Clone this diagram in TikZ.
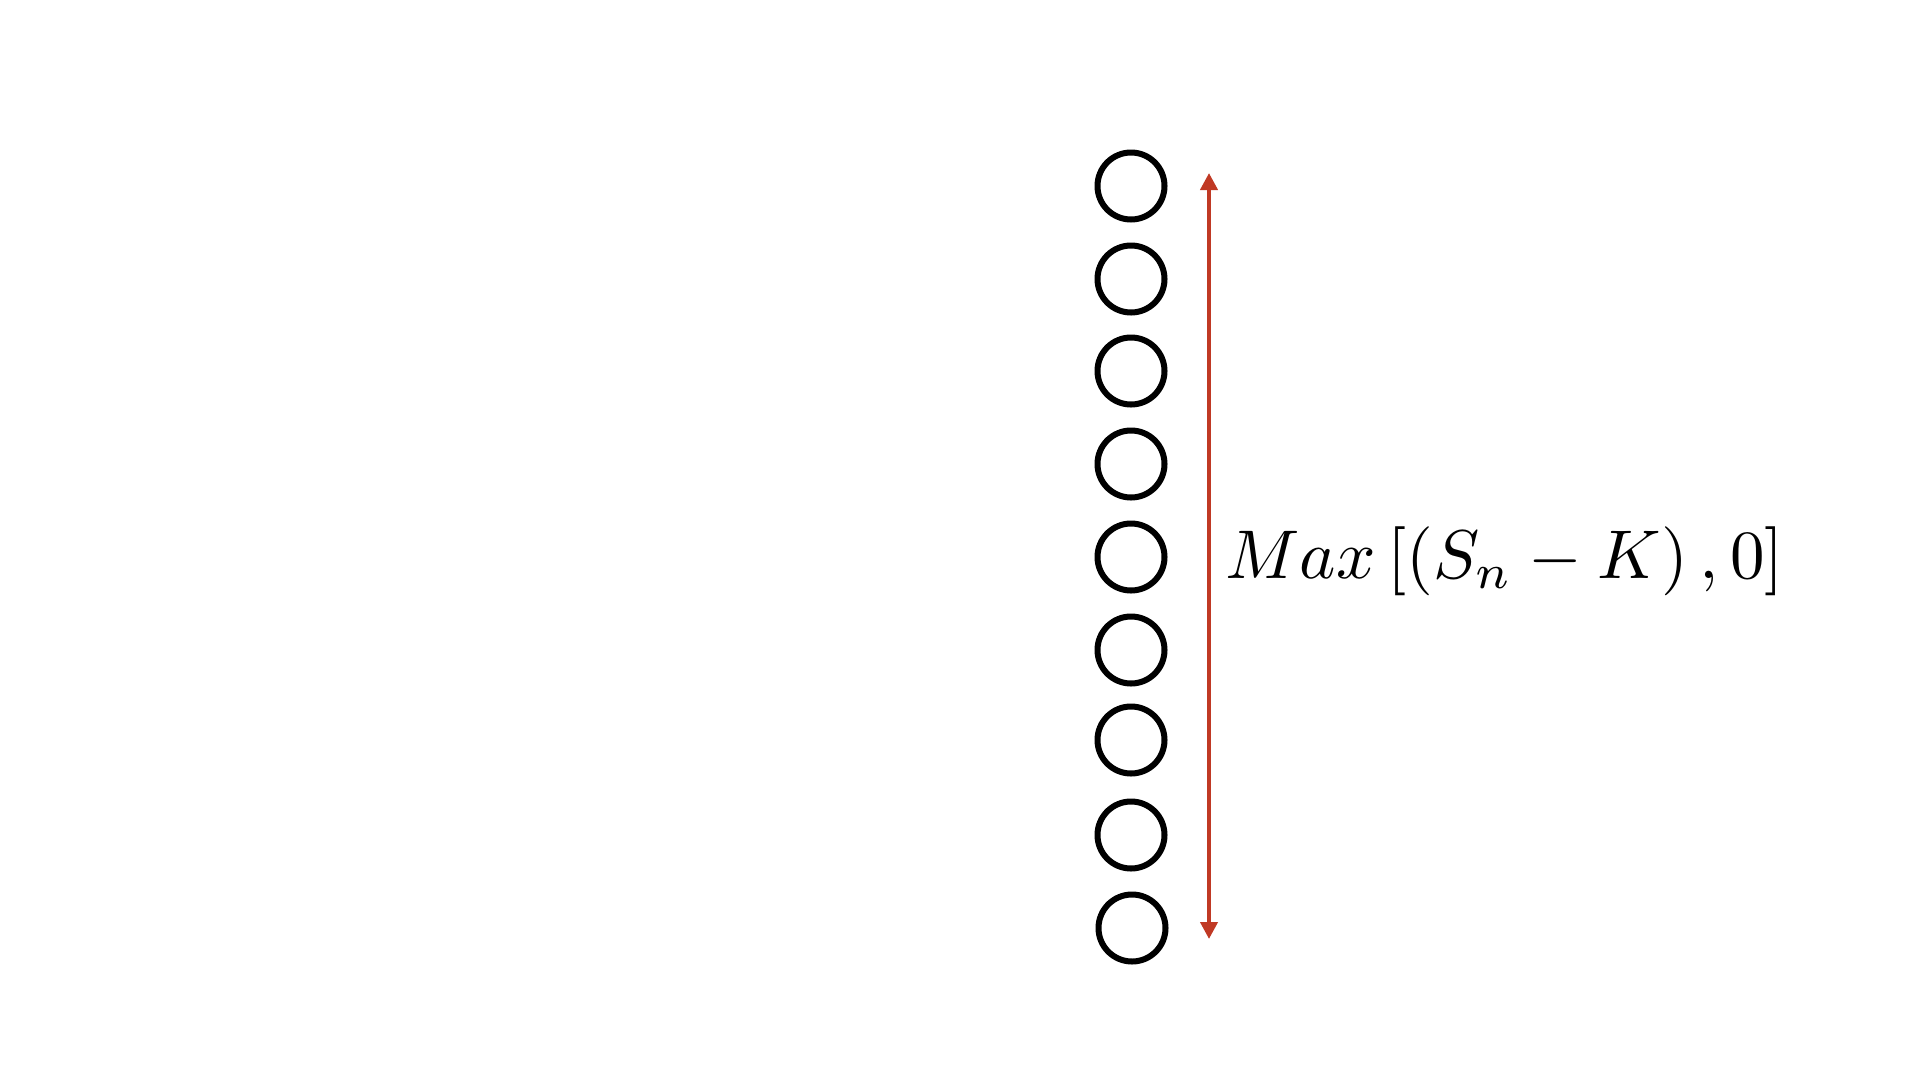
\documentclass[tikz,border=0pt]{standalone}
\usetikzlibrary{arrows.meta}
\definecolor{arrowred}{RGB}{192,57,36}
\begin{document}
\begin{tikzpicture}[x=1pt,y=-1pt,
  dot/.style={circle,draw=black,line width=6pt,minimum size=67pt,inner sep=0pt},
  span/.style={draw=arrowred,line width=4pt,{Triangle[width=17pt,length=17pt]}-{Triangle[width=17pt,length=17pt]}}]
\useasboundingbox (0,0) rectangle (1920,1080);
\node[dot] (c1) at (1131,186) {};
\node[dot] (c2) at (1131,279) {};
\node[dot] (c3) at (1131,371) {};
\node[dot] (c4) at (1131,464) {};
\node[dot] (c5) at (1131,557) {};
\node[dot] (c6) at (1131,650) {};
\node[dot] (c7) at (1131,740) {};
\node[dot] (c8) at (1131,835) {};
\node[dot] (c9) at (1132,928) {};
\coordinate (top) at (1209,173);
\coordinate (bot) at (1209,939);
\draw[span] (bot) -- (top);
\node[anchor=base west,inner sep=0pt,scale=6.9] (payoff) at (1224,578)
  {\normalsize $Max\left[\left(S_n - K\right),0\right]$};
\end{tikzpicture}
\end{document}
